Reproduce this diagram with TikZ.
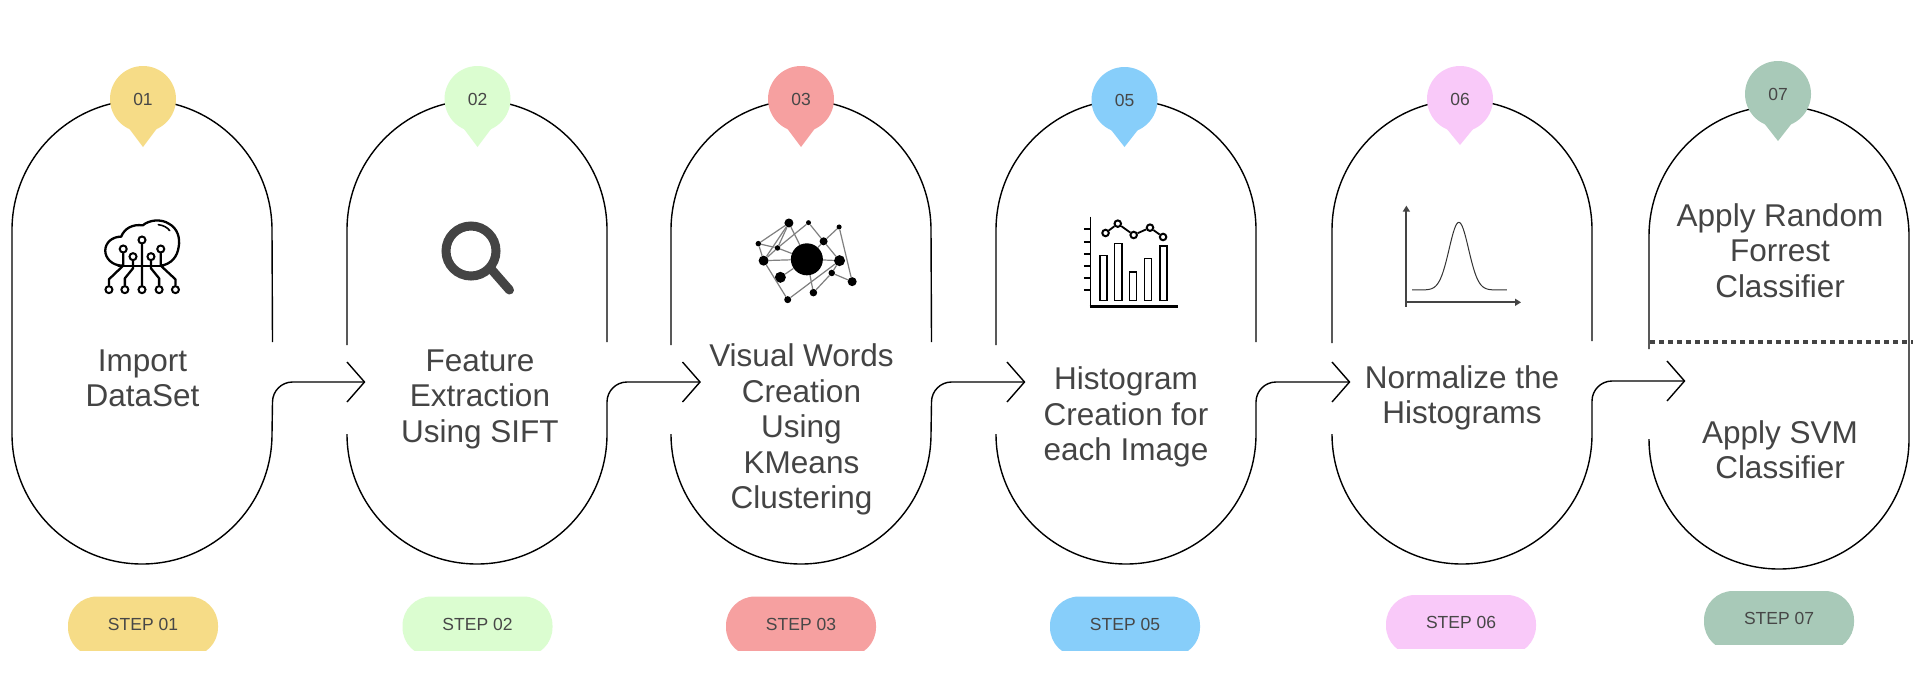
\documentclass[tikz,border=0pt]{standalone}
\usepackage{fontspec}
\setmainfont{Liberation Sans}
\usetikzlibrary{arrows.meta}
\definecolor{ink}{HTML}{444444}
\definecolor{cA}{HTML}{F6DC87}
\definecolor{cB}{HTML}{DBFDD0}
\definecolor{cC}{HTML}{F6A0A0}
\definecolor{cD}{HTML}{87CEFA}
\definecolor{cE}{HTML}{F9C9F9}
\definecolor{cF}{HTML}{A8C9B8}
\tikzset{
  x=1pt,y=-1pt,
  outline/.style={draw=black,line width=1.4pt},
  maintext/.style={text=ink,align=center,font=\fontsize{31.5}{35.5}\selectfont,inner sep=0pt},
  smalltext/.style={text=black!72,font=\fontsize{17.5}{20}\selectfont,inner sep=0pt},
  pinbody/.style={circle,inner sep=0pt,minimum size=66pt,smalltext},
  iconline/.style={draw=black,line width=2.3pt,line cap=round,line join=round},
  ring/.style={circle,draw=black,fill=white,line width=2pt,inner sep=0pt,minimum size=7pt},
  netdot/.style={circle,fill=black,inner sep=0pt},
  netedge/.style={draw=black!50,line width=1.2pt},
  bar/.style={draw=black,line width=1.5pt},
}
% xl xr ycUpper leftEnd rightEnd
\newcommand\archtop[5]{\draw[outline] (#1,#4) -- (#1,#3) arc[start angle=180,end angle=0,radius=130pt] -- (#2,#5);}
% xl xr yLower tipname yArrow
\newcommand\archbottom[5]{\draw[outline] (#1,#3) arc[start angle=180,end angle=360,radius=130pt] -- (#2,#5+20) .. controls (#2,#5+9) and (#2+9,#5) .. (#2+20,#5) -- (#4);}
% name x y
\newcommand\arrowtip[3]{\coordinate (#1) at (#2,#3); \draw[outline] (#2-17.5,#3-20) -- (#1) -- (#2-17.5,#3+20);}
% name colour cx cy tipy text
\newcommand\pinmark[6]{\fill[#2] (#3-18,#4+24) -- (#3,#5) -- (#3+18,#4+24) -- cycle; \node[pinbody,fill=#2] (#1) at (#3,#4) {#6};}
% name colour cx ytop text
\newcommand\steppill[5]{\begin{scope}\clip (#3-75,#4) rectangle (#3+75,#4+53.5); \fill[#2,rounded corners=29pt] (#3-75,#4) rectangle (#3+75,#4+60);\end{scope}\node[smalltext] (#1) at (#3,#4+27.5) {#5};}
\begin{document}
\begin{tikzpicture}
\useasboundingbox (0,0) rectangle (1913,689);
\fill[white] (0,0) rectangle (1913,689);
% tips
\arrowtip{t2}{364.5}{382}
\arrowtip{t3}{700}{382}
\arrowtip{t4}{1024.5}{382}
\arrowtip{t5}{1349.5}{382}
\arrowtip{t6}{1684.5}{381}
% arches
\archtop{12}{272.5}{230}{434}{342}
\archbottom{12}{272.5}{434}{t2}{382}
\archtop{347}{607}{230}{345}{342}
\archbottom{347}{607}{434}{t3}{382}
\archtop{671}{931.5}{230}{345}{342}
\archbottom{671}{931.5}{434}{t4}{382}
\archtop{996}{1256}{230}{345}{342}
\archbottom{996}{1256}{434}{t5}{382}
\archtop{1332}{1592}{230}{343}{341}
\archbottom{1332}{1592}{434}{t6}{381}
\draw[outline] (1649,349) -- (1649,236) arc[start angle=180,end angle=0,radius=130pt] -- (1909,439) arc[start angle=0,end angle=-180,radius=130pt];
\draw[draw=ink,line width=4.5pt,dash pattern=on 4.5pt off 4.5pt] (1650,342) -- (1913,342);
% pins
\pinmark{p1}{cA}{143}{99}{147}{01}
\pinmark{p2}{cB}{477.5}{99}{147}{02}
\pinmark{p3}{cC}{801}{99}{147}{03}
\pinmark{p5}{cD}{1124.5}{100}{147}{05}
\pinmark{p6}{cE}{1460}{99}{145}{06}
\pinmark{p7}{cF}{1778}{94}{141}{07}
% pills
\steppill{s1}{cA}{143}{596.5}{STEP 01}
\steppill{s2}{cB}{477.5}{596.5}{STEP 02}
\steppill{s3}{cC}{801}{596.5}{STEP 03}
\steppill{s5}{cD}{1125}{596.5}{STEP 05}
\steppill{s6}{cE}{1461}{595}{STEP 06}
\steppill{s7}{cF}{1779}{591}{STEP 07}
% text
\node[maintext] (l1) at (142.5,378.5) {Import\\DataSet};
\node[maintext] (l2) at (480,399) {Feature\\Extraction\\Using SIFT};
\node[maintext] (l3) at (801.5,429.5) {Visual Words\\Creation\\Using\\KMeans\\Clustering};
\node[maintext] (l4) at (1126,417) {Histogram\\Creation for\\each Image};
\node[maintext] (l5) at (1462,398) {Normalize the\\Histograms};
\node[maintext] (l6) at (1780,250.5) {Apply Random\\Forrest\\Classifier};
\node[maintext] (l7) at (1780,449.5) {Apply SVM\\Classifier};
% icon 1: cloud
\begin{scope}[shift={(0,40)},xscale=0.408,yscale=0.3333]
\draw[iconline] (300,677) .. controls (275,677) and (258,655) .. (258,632) .. controls (258,608) and (275,590) .. (297,590) .. controls (305,565) and (325,552) .. (350,556) .. controls (365,540) and (395,535) .. (415,552) .. controls (435,565) and (442,595) .. (438,620) .. controls (435,650) and (420,672) .. (395,677);
\draw[line width=1.6pt,line cap=round] (388,554) .. controls (400,556) and (410,562) .. (416,572);
\draw[iconline] (290,677) -- (400,677);
\node[ring] (a1) at (348,600) {};
\node[ring] (a2) at (302,627) {};
\node[ring] (a3) at (394,627) {};
\node[ring] (a4) at (326,650) {};
\node[ring] (a5) at (370,650) {};
\node[ring] (b1) at (267,749) {};
\node[ring] (b2) at (306,749) {};
\node[ring] (b3) at (348,749) {};
\node[ring] (b4) at (390,749) {};
\node[ring] (b5) at (430,749) {};
\draw[iconline] (a1) -- (b3);
\draw[iconline] (a2) -- (302,677) -- (267,718) -- (b1);
\draw[iconline] (a4) -- (326,685) -- (306,715) -- (b2);
\draw[iconline] (a5) -- (370,685) -- (390,715) -- (b4);
\draw[iconline] (a3) -- (394,677) -- (430,718) -- (b5);
\end{scope}
% icon 2: magnifier
\draw[draw=ink,line width=9pt,line cap=round] (492,270) -- (509.5,290);
\node[circle,draw=ink,line width=9pt,inner sep=0pt,minimum size=50pt] (lens) at (471,251) {};
% icon 3: network
\begin{scope}[shift={(640,40)},xscale=0.408,yscale=0.3333]
\node[netdot,minimum size=9pt] (A) at (365,549) {};
\node[netdot,minimum size=5pt] (B) at (413,548) {};
\node[netdot,minimum size=5pt] (C) at (488,561) {};
\node[netdot,minimum size=5.5pt] (D) at (290,611) {};
\node[netdot,minimum size=5.5pt] (E) at (337,624) {};
\node[netdot,minimum size=8pt] (F) at (450,604) {};
\node[netdot,minimum size=10pt] (G) at (303,662) {};
\node[netdot,minimum size=32pt] (H) at (409,658) {};
\node[netdot,minimum size=11pt] (I) at (489,662) {};
\node[netdot,minimum size=11pt] (J) at (344,712) {};
\node[netdot,minimum size=6.5pt] (K) at (470,699) {};
\node[netdot,minimum size=9pt] (L) at (520,725) {};
\node[netdot,minimum size=7pt] (M) at (362,779) {};
\node[netdot,minimum size=7.5pt] (N) at (425,758) {};
\foreach \u/\v in {D/A,D/G,A/G,A/E,A/H,E/B,E/H,D/E,G/E,G/H,F/B,F/H,F/C,F/I,C/L,H/I,I/K,K/L,K/N,I/M,G/M,J/H,H/N}
  \draw[netedge] (\u) -- (\v);
\end{scope}
% icon 4: chart
\begin{scope}[shift={(640,40)},xscale=0.408,yscale=0.3333]
\draw[line width=1.8pt] (1104,530) -- (1104,802);
\draw[line width=2.6pt] (1102,800) -- (1318,800);
\foreach \yy in {568,605,642,678,714,750} \draw[line width=1.8pt] (1088,\yy) -- (1104,\yy);
\draw[bar] (1128,647) rectangle (1145,782);
\draw[bar] (1163,611) rectangle (1181,782);
\draw[bar] (1200,696) rectangle (1217,782);
\draw[bar] (1237,656) rectangle (1254,782);
\draw[bar] (1274,618) rectangle (1291,782);
\node[ring,minimum size=6.5pt] (c1) at (1141,579) {};
\node[ring,minimum size=6.5pt] (c2) at (1171,551) {};
\node[ring,minimum size=6.5pt] (c3) at (1210,585) {};
\node[ring,minimum size=6.5pt] (c4) at (1250,563) {};
\node[ring,minimum size=6.5pt] (c5) at (1282,591) {};
\draw[line width=1.8pt] (c1) -- (c2) -- (c3) -- (c4) -- (c5);
\end{scope}
% icon 5: bell curve
\begin{scope}[shift={(1280,40)},xscale=0.4037,yscale=0.3333]
\draw[draw=ink,line width=2pt,-{Triangle[length=6pt,width=7pt]}] (313,800) -- (313,497);
\draw[draw=ink,line width=2pt,-{Triangle[length=6pt,width=7pt]}] (313,787) -- (597,787);
\draw[draw=black!80,line width=1pt,smooth] plot[domain=327:562,samples=90] (\x,{750-203*exp(-((\x-443)/34)^2)});
\end{scope}
\end{tikzpicture}
\end{document}
